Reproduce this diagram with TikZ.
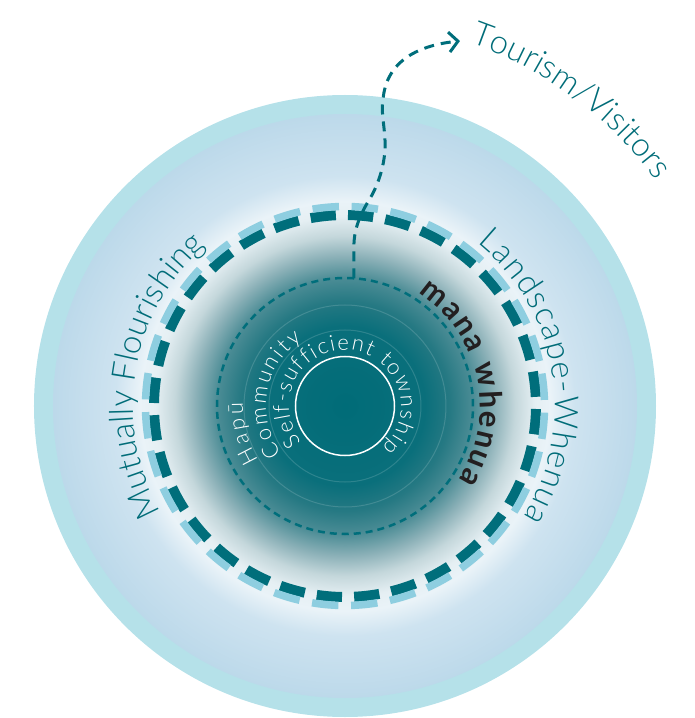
\documentclass[tikz,border=0pt]{standalone}
\usepackage{fontspec}
\usetikzlibrary{decorations.text,arrows.meta}
\IfFontExistsTF{Lato Light}{\newfontfamily\thinfont{Lato Light}}{\newfontfamily\thinfont{Lato}}
\newfontfamily\heavyfont{Lato}

\definecolor{tealdark}{RGB}{0,108,120}
\definecolor{dashteal}{RGB}{0,110,123}
\definecolor{dashblue}{RGB}{142,206,224}
\definecolor{bandcyan}{RGB}{181,225,233}
\definecolor{skyblue}{RGB}{188,217,234}
\definecolor{inkblack}{RGB}{35,31,32}
\definecolor{tealA}{RGB}{10,111,123}
\definecolor{tealB}{RGB}{38,121,131}
\definecolor{tealC}{RGB}{75,140,149}
\definecolor{greyD}{RGB}{140,177,184}
\definecolor{greyE}{RGB}{196,215,219}
\definecolor{paleF}{RGB}{229,239,243}
\definecolor{paleG}{RGB}{234,243,248}
\definecolor{paleH}{RGB}{206,227,240}

% radius 25bp is the rim of the shaded disc (292)
\pgfdeclareradialshading{discshade}{\pgfpoint{0bp}{0bp}}{%
  color(0bp)=(tealdark); color(6.85bp)=(tealA); color(9bp)=(tealB);
  color(10.96bp)=(tealC); color(12.84bp)=(greyD); color(14.55bp)=(greyE);
  color(16.27bp)=(paleF); color(17.55bp)=(paleG); color(19.7bp)=(paleH);
  color(25bp)=(skyblue); color(50bp)=(skyblue)}

\newcommand\outertext{\thinfont\fontsize{33}{35}\selectfont\color{tealdark}}
\newcommand\innertext{\thinfont\fontsize{22}{24}\selectfont\color{white}}
\newcommand\manatext{\heavyfont\bfseries\fontsize{31}{33}\selectfont\color{inkblack}}

\begin{document}
\begin{tikzpicture}[x=1pt,y=1pt,
    ringtext/.style={decorate,decoration={text along path,text align=fit to path}},
    flowline/.style={dashteal,line width=3,dash pattern=on 10 off 7,
      -{Straight Barb[length=9pt,width=20pt,line width=3pt]}}]
    \useasboundingbox (-345,-312) rectangle (349,406);
    \coordinate (c) at (0,0);
    % discs
    \fill[bandcyan] (c) circle (311);
    \shade[shading=discshade] (c) circle (292);
    \draw[white,opacity=0.15,line width=1] (c) circle (76) (c) circle (101);
    \draw[white,line width=1.5] (c) circle (49.5);
    \draw[dashteal,line width=2.5,dash pattern=on 7 off 5] (c) circle (128);
    % two-tone dashed ring
    \foreach \k [evaluate=\k as \a using \k*11.25+81.5] in {0,...,31}{
        \draw[dashteal,line width=10] (\a:191) arc[start angle=\a,delta angle=7.6,radius=191];
        \draw[dashblue,line width=7.5] (\a-1:199.5) arc[start angle=\a-1,delta angle=7.6,radius=199.5];
    }
    % out to the visitors
    \coordinate (hub) at (86:128);
    \coordinate (visit) at (115,365);
    \draw[flowline] (hub) -- (9,163) .. controls (10,184) and (20,199) .. (27,211)
        .. controls (35,226) and (41,246) .. (40,266)
        .. controls (39,284) and (36,294) .. (38,306)
        .. controls (41,346) and (75,361) .. (visit);
    % ring labels
    \path[ringtext,decoration={text={|\outertext|Mutually Flourishing}}]
        (210:212) arc[start angle=210,end angle=131,radius=212];
    \path[ringtext,decoration={text={|\outertext|Landscape-Whenua}}]
        (51:210) arc[start angle=51,end angle=-32,radius=210];
    \path[ringtext,decoration={text={|\outertext|Tourism/Visitors}}]
        (71:384) arc[start angle=71,end angle=36.5,radius=384];
    \path[ringtext,decoration={text={|\manatext|mana whenua}}]
        (57:135) arc[start angle=57,end angle=-33,radius=135];
    \path[ringtext,decoration={text={|\innertext|Self-sufficient township}}]
        (220:56) arc[start angle=220,end angle=-48,radius=56];
    \path[ringtext,decoration={text={|\innertext|Community}}]
        (217:79) arc[start angle=217,end angle=123,radius=79];
    \path[ringtext,decoration={text={|\innertext|Hapū}}]
        (212:102) arc[start angle=212,end angle=178,radius=102];
\end{tikzpicture}
\end{document}
